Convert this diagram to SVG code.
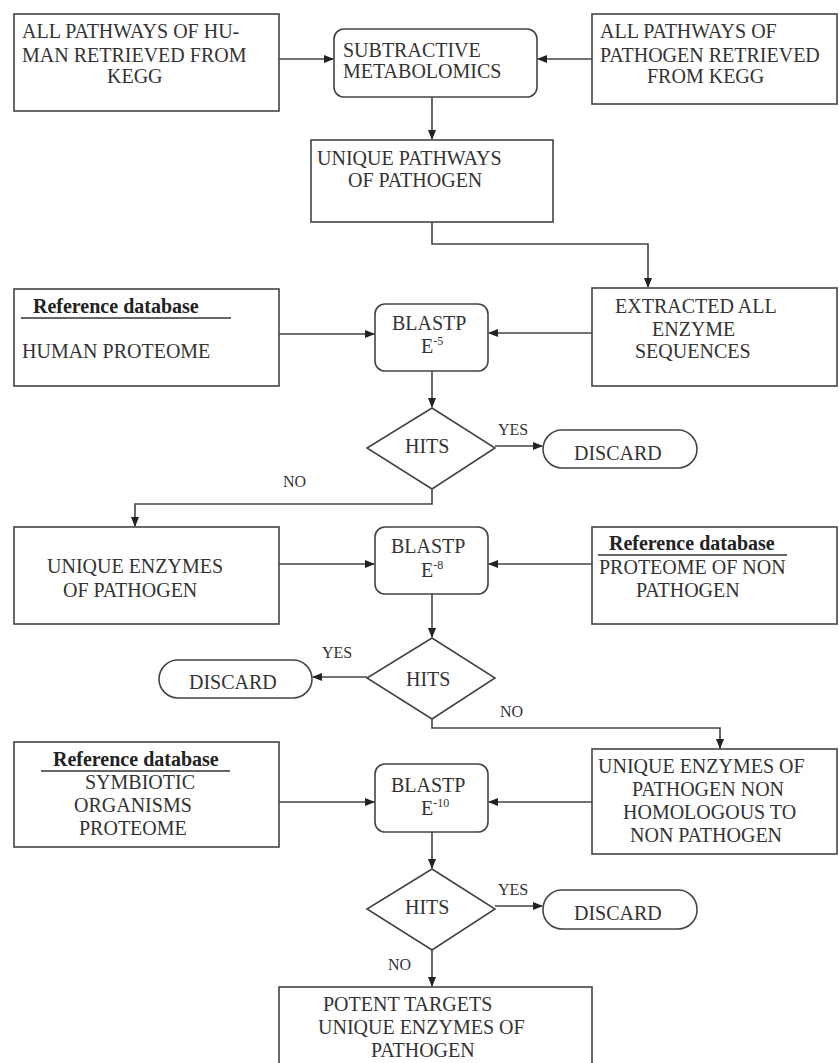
<svg xmlns="http://www.w3.org/2000/svg" width="839" height="1063" viewBox="0 0 839 1063">
<defs>
<style>
.b{fill:#fff;stroke:#444;stroke-width:1.6}
.c{fill:none;stroke:#444;stroke-width:1.6}
.u{stroke:#333;stroke-width:1.6}
</style>
<marker id="a" markerWidth="10" markerHeight="8" refX="9" refY="4" orient="auto" markerUnits="userSpaceOnUse">
<path d="M0,0 L10,4 L0,8 Z" fill="#222"/>
</marker>
</defs>
<rect width="839" height="1063" fill="#fff"/>

<g id="connectors">
<path class="c" d="M279,59 H333" marker-end="url(#a)"/>
<path class="c" d="M592,59 H538" marker-end="url(#a)"/>
<path class="c" d="M432,97 V139" marker-end="url(#a)"/>
<path class="c" d="M432,222 V244 H648 V287" marker-end="url(#a)"/>
<path class="c" d="M279,334 H374" marker-end="url(#a)"/>
<path class="c" d="M592,333 H489" marker-end="url(#a)"/>
<path class="c" d="M432,371 V407" marker-end="url(#a)"/>
<path class="c" d="M495,446 H542" marker-end="url(#a)"/>
<path class="c" d="M432,489 V504 H135 V526" marker-end="url(#a)"/>
<path class="c" d="M279,564 H374" marker-end="url(#a)"/>
<path class="c" d="M592,564 H489" marker-end="url(#a)"/>
<path class="c" d="M432,594 V637" marker-end="url(#a)"/>
<path class="c" d="M367,677 H313" marker-end="url(#a)"/>
<path class="c" d="M432,719 V728 H720 V748" marker-end="url(#a)"/>
<path class="c" d="M592,802 H489" marker-end="url(#a)"/>
<path class="c" d="M279,802 H374" marker-end="url(#a)"/>
<path class="c" d="M432,832 V868" marker-end="url(#a)"/>
<path class="c" d="M495,906 H542" marker-end="url(#a)"/>
<path class="c" d="M432,950 V986" marker-end="url(#a)"/>
<g font-family="Liberation Serif" font-size="16" fill="#333">
<text x="498" y="435">YES</text>
<text x="283" y="487">NO</text>
<text x="322" y="658">YES</text>
<text x="500" y="717">NO</text>
<text x="498" y="895">YES</text>
<text x="388" y="970">NO</text>
</g>
</g>

<g id="human-pathways" font-family="Liberation Serif" font-size="20" fill="#333">
<rect class="b" x="14" y="14" width="265" height="97"/>
<text x="22" y="38">ALL PATHWAYS OF HU-</text>
<text x="22" y="62">MAN  RETRIEVED FROM</text>
<text x="107" y="83">KEGG</text>
</g>

<g id="subtractive" font-family="Liberation Serif" font-size="20" fill="#333">
<rect class="b" x="334" y="29" width="203" height="68" rx="10"/>
<text x="343" y="57">SUBTRACTIVE</text>
<text x="343" y="78">METABOLOMICS</text>
</g>

<g id="pathogen-pathways" font-family="Liberation Serif" font-size="20" fill="#333">
<rect class="b" x="592" y="14" width="245" height="90"/>
<text x="600" y="38">ALL PATHWAYS OF</text>
<text x="600" y="62">PATHOGEN RETRIEVED</text>
<text x="647" y="83">FROM  KEGG</text>
</g>

<g id="unique-pathways" font-family="Liberation Serif" font-size="20" fill="#333">
<rect class="b" x="311" y="140" width="242" height="82"/>
<text x="317" y="165">UNIQUE PATHWAYS</text>
<text x="348" y="187">OF PATHOGEN</text>
</g>

<g id="human-proteome" font-family="Liberation Serif" font-size="20" fill="#333">
<rect class="b" x="14" y="289" width="265" height="97"/>
<text x="33" y="313" font-weight="bold" fill="#222">Reference database</text>
<line class="u" x1="21" y1="318" x2="231" y2="318"/>
<text x="22" y="358">HUMAN PROTEOME</text>
</g>

<g id="blastp1" font-family="Liberation Serif" font-size="20" fill="#333">
<rect class="b" x="375" y="304" width="113" height="67" rx="10"/>
<text x="392" y="330">BLASTP</text>
<text x="421" y="353">E<tspan font-size="12" dy="-8">-5</tspan></text>
</g>

<g id="extracted" font-family="Liberation Serif" font-size="20" fill="#333">
<rect class="b" x="592" y="288" width="245" height="98"/>
<text x="615" y="313">EXTRACTED ALL</text>
<text x="652" y="336">ENZYME</text>
<text x="635" y="358">SEQUENCES</text>
</g>

<g id="hits1" font-family="Liberation Serif" font-size="20" fill="#333">
<polygon class="b" points="432,408 495,448 432,489 367,448"/>
<text x="405" y="453">HITS</text>
</g>

<g id="discard1" font-family="Liberation Serif" font-size="20" fill="#333">
<rect class="b" x="543" y="430" width="154" height="38" rx="19"/>
<text x="574" y="460">DISCARD</text>
</g>

<g id="unique-enzymes" font-family="Liberation Serif" font-size="20" fill="#333">
<rect class="b" x="14" y="527" width="265" height="97"/>
<text x="47" y="573">UNIQUE  ENZYMES</text>
<text x="63" y="597">OF PATHOGEN</text>
</g>

<g id="blastp2" font-family="Liberation Serif" font-size="20" fill="#333">
<rect class="b" x="375" y="527" width="113" height="67" rx="10"/>
<text x="391" y="553">BLASTP</text>
<text x="421" y="577">E<tspan font-size="12" dy="-8">-8</tspan></text>
</g>

<g id="non-pathogen" font-family="Liberation Serif" font-size="20" fill="#333">
<rect class="b" x="592" y="527" width="245" height="97"/>
<text x="609" y="550" font-weight="bold" fill="#222">Reference database</text>
<line class="u" x1="598" y1="555" x2="787" y2="555"/>
<text x="599" y="574">PROTEOME OF NON</text>
<text x="636" y="597">PATHOGEN</text>
</g>

<g id="hits2" font-family="Liberation Serif" font-size="20" fill="#333">
<polygon class="b" points="432,638 495,678 432,719 367,678"/>
<text x="406" y="686">HITS</text>
</g>

<g id="discard2" font-family="Liberation Serif" font-size="20" fill="#333">
<rect class="b" x="159" y="660" width="153" height="38" rx="19"/>
<text x="189" y="689">DISCARD</text>
</g>

<g id="symbiotic" font-family="Liberation Serif" font-size="20" fill="#333">
<rect class="b" x="14" y="742" width="265" height="105"/>
<text x="53" y="766" font-weight="bold" fill="#222">Reference database</text>
<line class="u" x1="41" y1="771" x2="230" y2="771"/>
<text x="85" y="789">SYMBIOTIC</text>
<text x="74" y="812">ORGANISMS</text>
<text x="79" y="835">PROTEOME</text>
</g>

<g id="blastp3" font-family="Liberation Serif" font-size="20" fill="#333">
<rect class="b" x="375" y="764" width="113" height="68" rx="10"/>
<text x="391" y="792">BLASTP</text>
<text x="421" y="815">E<tspan font-size="12" dy="-8">-10</tspan></text>
</g>

<g id="unique-non-homologous" font-family="Liberation Serif" font-size="20" fill="#333">
<rect class="b" x="592" y="749" width="245" height="105"/>
<text x="598" y="773">UNIQUE  ENZYMES OF</text>
<text x="632" y="796">PATHOGEN NON</text>
<text x="623" y="819">HOMOLOGOUS TO</text>
<text x="630" y="842">NON PATHOGEN</text>
</g>

<g id="hits3" font-family="Liberation Serif" font-size="20" fill="#333">
<polygon class="b" points="432,869 495,909 432,950 367,909"/>
<text x="405" y="914">HITS</text>
</g>

<g id="discard3" font-family="Liberation Serif" font-size="20" fill="#333">
<rect class="b" x="543" y="890" width="154" height="39" rx="19"/>
<text x="574" y="920">DISCARD</text>
</g>

<g id="potent-targets" font-family="Liberation Serif" font-size="20" fill="#333">
<rect class="b" x="279" y="987" width="313" height="90"/>
<text x="323" y="1011">POTENT TARGETS</text>
<text x="318" y="1034">UNIQUE ENZYMES OF</text>
<text x="371" y="1057">PATHOGEN</text>
</g>
</svg>
